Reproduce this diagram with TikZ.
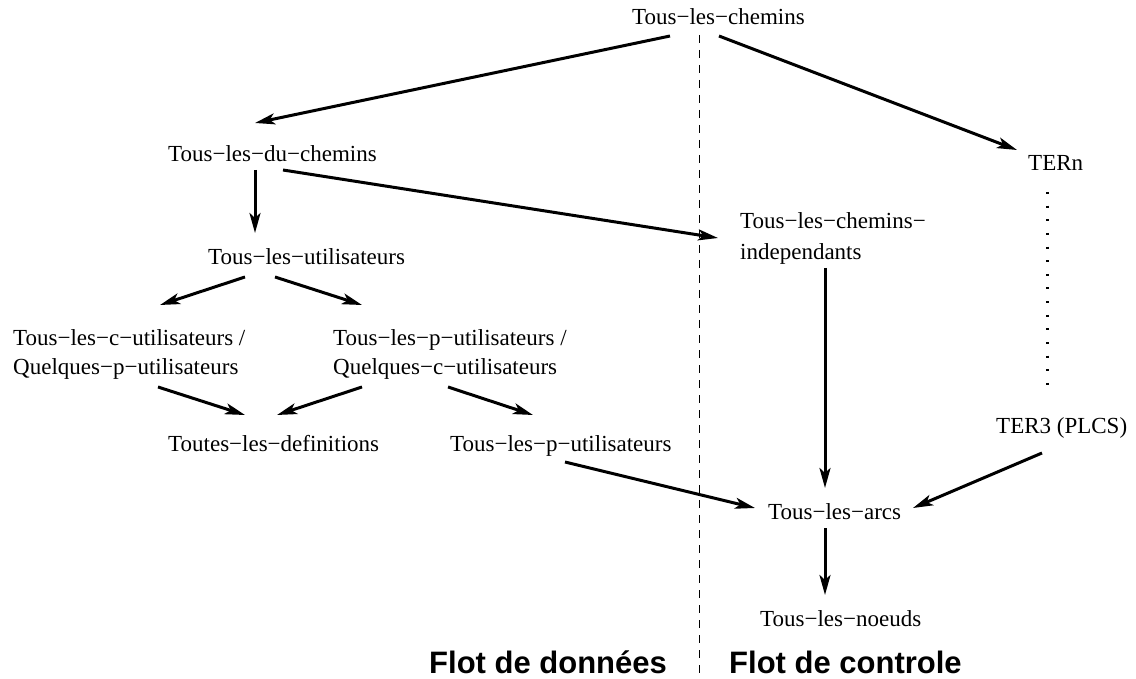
\documentclass[tikz,border=0pt]{standalone}
\usepackage{fontspec}
\setmainfont{Liberation Serif}
\newfontfamily\headfont{Liberation Sans}
\usetikzlibrary{arrows.meta}
\begin{document}
\begin{tikzpicture}[x=1pt,y=-1pt,
  lbl/.style={inner sep=0pt, anchor=base west, font=\fontsize{23}{29.5}\selectfont},
  mlbl/.style={inner sep=0pt, anchor=north west, align=left, font=\fontsize{23}{29.5}\selectfont},
  head/.style={inner sep=0pt, anchor=base west, font=\headfont\bfseries\fontsize{31}{36}\selectfont},
  arr/.style={line width=3pt, -{Stealth[length=20pt,width=11pt,inset=5pt]}},
  sep/.style={line width=1pt, dash pattern=on 8pt off 7pt},
  dots/.style={line width=3pt, dash pattern=on 2pt off 11.64pt}]
\useasboundingbox (0,0) rectangle (1136,679);

% criteria
\node[lbl] (chem)   at (632,25)  {Tous−les−chemins};
\node[lbl] (duchem) at (168,162) {Tous−les−du−chemins};
\node[lbl] (tern)   at (1028,171) {TERn};
\node[mlbl] (indep) at (740,212) {Tous−les−chemins−\\[1.5pt]independants};
\node[lbl] (util)   at (208,265) {Tous−les−utilisateurs};
\node[mlbl] (cu)    at (13,329)  {Tous−les−c−utilisateurs /\\Quelques−p−utilisateurs};
\node[mlbl] (pu)    at (333,329) {Tous−les−p−utilisateurs /\\Quelques−c−utilisateurs};
\node[lbl] (defs)   at (168,451) {Toutes−les−definitions};
\node[lbl] (pu2)    at (450,451) {Tous−les−p−utilisateurs};
\node[lbl] (ter3)   at (996,433) {TER3 (PLCS)};
\node[lbl] (arcs)   at (768,519) {Tous−les−arcs};
\node[lbl] (noeuds) at (760,626) {Tous−les−noeuds};

% the two families
\node[head] (flotd) at (429,673) {Flot de données};
\node[head] (flotc) at (729,673) {Flot de controle};
\draw[sep] (699,35) -- (699,679);

% subsumption arrows
\draw[arr] ([shift={(38,11)}]chem.base west) -- ([shift={(87,-39)}]duchem.base west);
\draw[arr] ([shift={(87,11)}]chem.base west) -- ([shift={(-11,-21)}]tern.base west);
\draw[arr] ([shift={(87,8)}]duchem.base west) -- ([shift={(47,-32)}]util.base west);
\draw[arr] ([shift={(115,8)}]duchem.base west) -- ([shift={(-22,26)}]indep.north west);
\draw[arr] ([shift={(37,12)}]util.base west) -- ([shift={(147,-24)}]cu.north west);
\draw[arr] ([shift={(67,12)}]util.base west) -- ([shift={(29,-24)}]pu.north west);
\draw[arr] ([shift={(145,58)}]cu.north west) -- ([shift={(77,-36)}]defs.base west);
\draw[arr] ([shift={(29,58)}]pu.north west) -- ([shift={(109,-36)}]defs.base west);
\draw[arr] ([shift={(115,58)}]pu.north west) -- ([shift={(83,-36)}]pu2.base west);
\draw[arr] ([shift={(115,11)}]pu2.base west) -- ([shift={(-13,-11)}]arcs.base west);
\draw[arr] ([shift={(46,20)}]ter3.base west) -- ([shift={(145,-11)}]arcs.base west);
\draw[arr] ([shift={(85,56)}]indep.north west) -- ([shift={(57,-31)}]arcs.base west);
\draw[arr] ([shift={(57,9)}]arcs.base west) -- ([shift={(65,-31)}]noeuds.base west);
\draw[dots] ([shift={(19,21)}]tern.base west) -- ([shift={(51,-48)}]ter3.base west);
\end{tikzpicture}
\end{document}
